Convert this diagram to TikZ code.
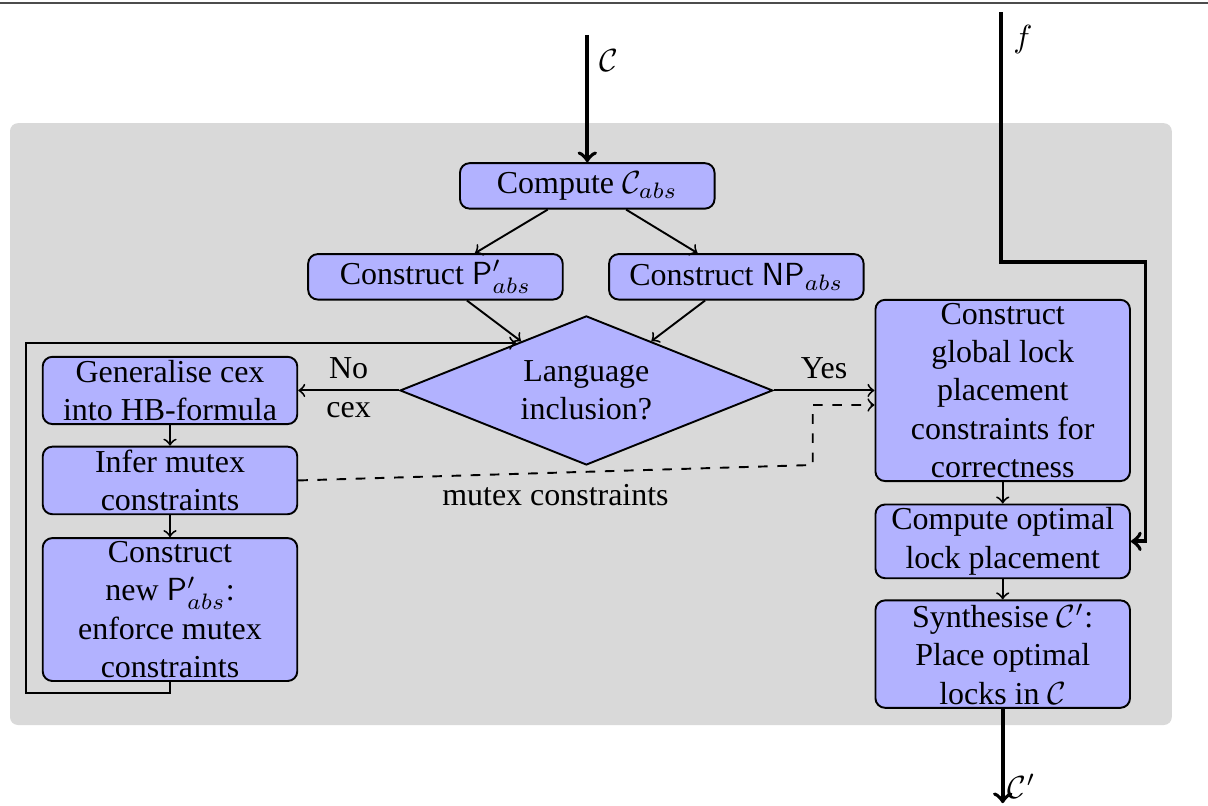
\documentclass[tikz,border=0pt]{standalone}
\usepackage{fontspec}
\setmainfont{Liberation Serif}
\usepackage{amsmath}
\usetikzlibrary{shapes.geometric}

\begin{document}
\begin{tikzpicture}[
stage/.style={draw, semithick, fill=blue!30, rounded corners=3pt, align=center,
  inner sep=1pt, minimum width=2.8cm, minimum height=0.5cm},
test/.style={draw, semithick, fill=blue!30, diamond, aspect=2.5, align=center,
  inner sep=1pt, minimum width=4.1cm, minimum height=1.64cm},
flow/.style={->, semithick},
io/.style={->, very thick}
]
\useasboundingbox (0,0) rectangle (13.288,8.855);

% The rule and the background
\draw[semithick, black!70] (0,8.82) -- (13.288,8.82);
\fill[gray!30, rounded corners=2.5pt] (0.11,0.88) rectangle (12.89,7.50);

% The steps
\node[stage] (comp) at (6.46,6.81) {Compute $\mathcal{C}_{abs}$};
\node[stage] (pabs) at (4.79,5.81) {Construct $\mathsf{P}'_{abs}$};
\node[stage] (npabs) at (8.10,5.81) {Construct $\mathsf{NP}_{abs}$};
\node[test] (dec) at (6.45,4.56) {Language\\ inclusion?};
\node[stage] (gen) at (1.87,4.56) {Generalise cex\\ into HB-formula};
\node[stage] (infer) at (1.87,3.57) {Infer mutex\\ constraints};
\node[stage] (newp) at (1.87,2.15) {Construct\\ new $\mathsf{P}'_{abs}$:\\ enforce mutex\\ constraints};
\node[stage] (glob) at (11.03,4.56) {Construct\\ global lock\\ placement\\ constraints for\\ correctness};
\node[stage] (opt) at (11.03,2.90) {Compute optimal\\ lock placement};
\node[stage] (synth) at (11.03,1.66) {Synthesise $\mathcal{C}'$:\\ Place optimal\\ locks in $\mathcal{C}$};

% The free ends
\coordinate (cin) at (6.46,8.47);
\coordinate (fin) at (11.01,8.72);
\coordinate (fturn) at (12.6,5.97);
\coordinate (cout) at (11.03,0.02);
\coordinate (loop) at (0.29,3);
\coordinate (dbend) at (8.94,3.74);

% Inputs and output
\draw[io] (cin) -- node[pos=0.2, right] {$\mathcal{C}$} (comp);
\draw[io] (fin) |- node[pos=0.055, right] {$f$} (fturn) |- (opt.east);
\draw[io] (synth) -- node[pos=0.82, right, inner sep=1pt] {$\mathcal{C}'$} (cout);

% The flow
\draw[flow] (comp) -- (pabs);
\draw[flow] (comp) -- (npabs);
\draw[flow] (pabs) -- (dec);
\draw[flow] (npabs) -- (dec);
\draw[flow] (dec) -- node[above] {No} node[below] {cex} (gen);
\draw[flow] (dec) -- node[above] {Yes} (glob);
\draw[flow] (gen) -- (infer);
\draw[flow] (infer) -- (newp);
\draw[flow] (newp.south) -- ++(0,-0.12) -| (loop) |- (dec.146);
\draw[flow] (glob) -- (opt);
\draw[flow] (opt) -- (synth);
\draw[flow, dashed] (infer.east) -- node[below] {mutex constraints} (dbend) |- ([yshift=-0.16cm]glob.west);
\end{tikzpicture}
\end{document}
